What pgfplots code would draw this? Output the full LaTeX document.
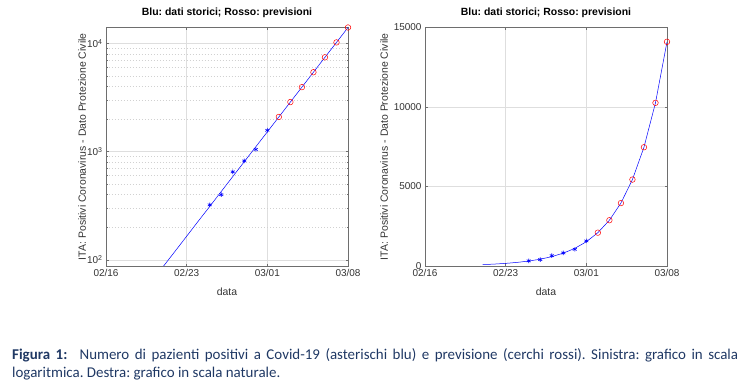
\documentclass[border=0pt]{standalone}
\usepackage{pgfplots}
\usepackage{pgfplotstable}
\pgfplotsset{compat=1.18}
\usepackage{fontspec}
\setmainfont{Liberation Sans}
\newfontfamily\capfont{Carlito}
\definecolor{capblue}{RGB}{31,56,100}
\definecolor{axgray}{RGB}{110,110,110}

\pgfplotstableread{
day val
9 322
10 400
11 650
12 821
13 1049
14 1577
}\storici

\pgfplotstableread{
day val
15 2096
16 2879
17 3956
18 5436
19 7469
20 10262
21 14100
}\previsioni

\pgfplotstableread{
day val
5 87.5
6 120
7 165
8 227
9 311
10 428
11 588
12 808
13 1110
14 1525
15 2096
16 2879
17 3956
18 5436
19 7469
20 10262
21 14100
}\fit

\pgfplotsset{
  myax/.style={
    scale only axis, width=242bp, height=238.5bp,
    xmin=0, xmax=21, xtick={0,7,14,21},
    xticklabels={02/16,02/23,03/01,03/08},
    tick align=inside,
    major tick length=2.5bp, minor tick length=1.5bp,
    axis line style={axgray, line width=0.5pt},
    every tick/.style={axgray, line width=0.4pt},
    grid=major,
    major grid style={black!13, line width=0.4pt},
    tick label style={font=\fontsize{10}{12}\selectfont, text=black!80},
    title={Blu: dati storici; Rosso: previsioni},
    title style={font=\bfseries\fontsize{10.5}{12}\selectfont, at={(axis description cs:0.5,1.0356)}, anchor=center},
    xlabel={data},
    xlabel style={font=\fontsize{10.5}{12}\selectfont, text=black!80, at={(axis description cs:0.5,-0.109)}, anchor=center},
    ylabel={ITA: Positivi Coronavirus - Dato Protezione Civile},
    scaled y ticks=false,
    /pgf/number format/assume math mode=true,
    /pgf/number format/set thousands separator={},
  },
  fitline/.style={blue, line width=0.5pt, no markers},
  histmark/.style={only marks, mark=asterisk, blue, mark size=2.3bp, mark options={line width=0.6pt}},
  prevmark/.style={only marks, mark=o, red, mark size=2.8bp, mark options={line width=0.5pt}},
}

\begin{document}
\frenchspacing
\begin{tikzpicture}
\path[use as bounding box] (0,0) rectangle (750bp,390bp);

% Left: log scale
\begin{axis}[myax,
  at={(106bp,124bp)}, anchor=south west,
  ymode=log, ymin=87.5, ymax=14100,
  ytick={100,1000,10000},
  yticklabels={10\textsuperscript{2},10\textsuperscript{3},10\textsuperscript{4}},
  minor ytick={200,300,400,500,600,700,800,900,2000,3000,4000,5000,6000,7000,8000,9000},
  yminorgrids=true,
  minor grid style={black!18, dash pattern=on 0.5pt off 2.5pt, line width=0.4pt},
  ylabel style={font=\fontsize{10.5}{12}\selectfont, text=black!80, at={(axis description cs:-0.099,0.5)}, anchor=center},
]
\addplot[fitline] table[x=day,y=val] {\fit};
\addplot[histmark] table[x=day,y=val] {\storici};
\addplot[prevmark] table[x=day,y=val] {\previsioni};
\end{axis}

% Right: linear scale
\begin{axis}[myax,
  at={(425bp,124bp)}, anchor=south west,
  ymin=0, ymax=15000,
  ytick={0,5000,10000,15000},
  ylabel style={font=\fontsize{10.5}{12}\selectfont, text=black!80, at={(axis description cs:-0.169,0.5)}, anchor=center},
]
\addplot[fitline] table[x=day,y=val] {\fit};
\addplot[histmark] table[x=day,y=val] {\storici};
\addplot[prevmark] table[x=day,y=val] {\previsioni};
\end{axis}

\node[anchor=north west, inner sep=0pt, text width=726bp, align=justify, text=capblue,
      font=\capfont\fontsize{15}{18}\selectfont] at (12bp,42bp)
  {\textbf{Figura 1:}\hspace{0.45em} Numero di pazienti positivi a Covid-19 (asterischi blu) e previsione (cerchi rossi). Sinistra: grafico in scala\linebreak logaritmica. Destra: grafico in scala naturale.};
\end{tikzpicture}
\end{document}
